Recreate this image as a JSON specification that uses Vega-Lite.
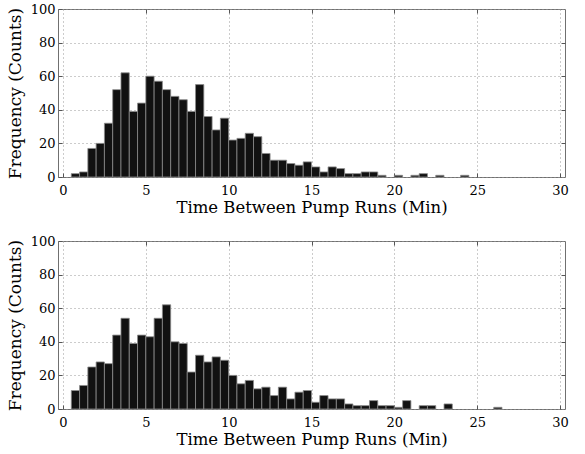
{
  "$schema": "https://vega.github.io/schema/vega-lite/v6.json",
  "padding": {"left": 5, "top": 2, "right": 10, "bottom": 5},
  "background": "white",
  "spacing": 64,
  "bounds": "flush",
  "config": {
    "font": "DejaVu Serif",
    "view": {"stroke": "#707070", "strokeWidth": 1},
    "axis": {
      "labelFont": "DejaVu Serif",
      "titleFont": "DejaVu Serif",
      "labelFontSize": 13,
      "titleFontSize": 16.5,
      "titleFontWeight": "normal",
      "labelColor": "black",
      "titleColor": "black",
      "domain": false,
      "ticks": true,
      "tickSize": -4,
      "tickColor": "#555555",
      "tickWidth": 1,
      "grid": true,
      "gridColor": "#999999",
      "gridDash": [1, 3],
      "gridWidth": 1
    },
    "axisY": {"titleFontSize": 17}
  },
  "datasets": {
    "top": [
      {"bin_start": 0.5, "bin_end": 1.0, "count": 2},
      {"bin_start": 1.0, "bin_end": 1.5, "count": 3},
      {"bin_start": 1.5, "bin_end": 2.0, "count": 17},
      {"bin_start": 2.0, "bin_end": 2.5, "count": 20},
      {"bin_start": 2.5, "bin_end": 3.0, "count": 32},
      {"bin_start": 3.0, "bin_end": 3.5, "count": 52},
      {"bin_start": 3.5, "bin_end": 4.0, "count": 62},
      {"bin_start": 4.0, "bin_end": 4.5, "count": 39},
      {"bin_start": 4.5, "bin_end": 5.0, "count": 44},
      {"bin_start": 5.0, "bin_end": 5.5, "count": 60},
      {"bin_start": 5.5, "bin_end": 6.0, "count": 57},
      {"bin_start": 6.0, "bin_end": 6.5, "count": 52},
      {"bin_start": 6.5, "bin_end": 7.0, "count": 48},
      {"bin_start": 7.0, "bin_end": 7.5, "count": 46},
      {"bin_start": 7.5, "bin_end": 8.0, "count": 39},
      {"bin_start": 8.0, "bin_end": 8.5, "count": 55},
      {"bin_start": 8.5, "bin_end": 9.0, "count": 36},
      {"bin_start": 9.0, "bin_end": 9.5, "count": 28},
      {"bin_start": 9.5, "bin_end": 10.0, "count": 35},
      {"bin_start": 10.0, "bin_end": 10.5, "count": 22},
      {"bin_start": 10.5, "bin_end": 11.0, "count": 23},
      {"bin_start": 11.0, "bin_end": 11.5, "count": 26},
      {"bin_start": 11.5, "bin_end": 12.0, "count": 24},
      {"bin_start": 12.0, "bin_end": 12.5, "count": 14},
      {"bin_start": 12.5, "bin_end": 13.0, "count": 10},
      {"bin_start": 13.0, "bin_end": 13.5, "count": 10},
      {"bin_start": 13.5, "bin_end": 14.0, "count": 8},
      {"bin_start": 14.0, "bin_end": 14.5, "count": 7},
      {"bin_start": 14.5, "bin_end": 15.0, "count": 9},
      {"bin_start": 15.0, "bin_end": 15.5, "count": 6},
      {"bin_start": 15.5, "bin_end": 16.0, "count": 3},
      {"bin_start": 16.0, "bin_end": 16.5, "count": 6},
      {"bin_start": 16.5, "bin_end": 17.0, "count": 5},
      {"bin_start": 17.0, "bin_end": 17.5, "count": 2},
      {"bin_start": 17.5, "bin_end": 18.0, "count": 2},
      {"bin_start": 18.0, "bin_end": 18.5, "count": 3},
      {"bin_start": 18.5, "bin_end": 19.0, "count": 3},
      {"bin_start": 19.0, "bin_end": 19.5, "count": 1},
      {"bin_start": 20.0, "bin_end": 20.5, "count": 1},
      {"bin_start": 21.0, "bin_end": 21.5, "count": 1},
      {"bin_start": 21.5, "bin_end": 22.0, "count": 2},
      {"bin_start": 22.5, "bin_end": 23.0, "count": 1},
      {"bin_start": 24.0, "bin_end": 24.5, "count": 1}
    ],
    "bottom": [
      {"bin_start": 0.5, "bin_end": 1.0, "count": 11},
      {"bin_start": 1.0, "bin_end": 1.5, "count": 14},
      {"bin_start": 1.5, "bin_end": 2.0, "count": 25},
      {"bin_start": 2.0, "bin_end": 2.5, "count": 28},
      {"bin_start": 2.5, "bin_end": 3.0, "count": 27},
      {"bin_start": 3.0, "bin_end": 3.5, "count": 44},
      {"bin_start": 3.5, "bin_end": 4.0, "count": 54},
      {"bin_start": 4.0, "bin_end": 4.5, "count": 39},
      {"bin_start": 4.5, "bin_end": 5.0, "count": 44},
      {"bin_start": 5.0, "bin_end": 5.5, "count": 43},
      {"bin_start": 5.5, "bin_end": 6.0, "count": 54},
      {"bin_start": 6.0, "bin_end": 6.5, "count": 62},
      {"bin_start": 6.5, "bin_end": 7.0, "count": 40},
      {"bin_start": 7.0, "bin_end": 7.5, "count": 39},
      {"bin_start": 7.5, "bin_end": 8.0, "count": 22},
      {"bin_start": 8.0, "bin_end": 8.5, "count": 32},
      {"bin_start": 8.5, "bin_end": 9.0, "count": 28},
      {"bin_start": 9.0, "bin_end": 9.5, "count": 31},
      {"bin_start": 9.5, "bin_end": 10.0, "count": 29},
      {"bin_start": 10.0, "bin_end": 10.5, "count": 20},
      {"bin_start": 10.5, "bin_end": 11.0, "count": 15},
      {"bin_start": 11.0, "bin_end": 11.5, "count": 17},
      {"bin_start": 11.5, "bin_end": 12.0, "count": 12},
      {"bin_start": 12.0, "bin_end": 12.5, "count": 13},
      {"bin_start": 12.5, "bin_end": 13.0, "count": 8},
      {"bin_start": 13.0, "bin_end": 13.5, "count": 13},
      {"bin_start": 13.5, "bin_end": 14.0, "count": 6},
      {"bin_start": 14.0, "bin_end": 14.5, "count": 10},
      {"bin_start": 14.5, "bin_end": 15.0, "count": 11},
      {"bin_start": 15.0, "bin_end": 15.5, "count": 4},
      {"bin_start": 15.5, "bin_end": 16.0, "count": 8},
      {"bin_start": 16.0, "bin_end": 16.5, "count": 6},
      {"bin_start": 16.5, "bin_end": 17.0, "count": 6},
      {"bin_start": 17.0, "bin_end": 17.5, "count": 3},
      {"bin_start": 17.5, "bin_end": 18.0, "count": 2},
      {"bin_start": 18.0, "bin_end": 18.5, "count": 2},
      {"bin_start": 18.5, "bin_end": 19.0, "count": 5},
      {"bin_start": 19.0, "bin_end": 19.5, "count": 2},
      {"bin_start": 19.5, "bin_end": 20.0, "count": 2},
      {"bin_start": 20.0, "bin_end": 20.5, "count": 1},
      {"bin_start": 20.5, "bin_end": 21.0, "count": 5},
      {"bin_start": 21.5, "bin_end": 22.0, "count": 2},
      {"bin_start": 22.0, "bin_end": 22.5, "count": 2},
      {"bin_start": 23.0, "bin_end": 23.5, "count": 3},
      {"bin_start": 26.0, "bin_end": 26.5, "count": 1}
    ]
  },
  "vconcat": [
    {
      "width": 507,
      "height": 168,
      "data": {"name": "top"},
      "resolve": {"axis": {"x": "independent", "y": "independent"}},
      "layer": [
        {
          "mark": {"type": "bar", "orient": "vertical", "fill": "#111111", "stroke": "#8c8c8c", "strokeWidth": 0.8},
          "encoding": {
            "x": {"field": "bin_start", "type": "quantitative", "scale": {"domain": [0, 30], "nice": false},
              "axis": {"values": [0, 5, 10, 15, 20, 25, 30], "title": "Time Between Pump Runs (Min)", "labelPadding": 11, "titlePadding": 2}},
            "x2": {"field": "bin_end"},
            "y": {"field": "count", "type": "quantitative", "scale": {"domain": [0, 100], "nice": false},
              "axis": {"values": [0, 20, 40, 60, 80, 100], "title": "Frequency (Counts)", "labelPadding": 7, "titlePadding": 6}},
            "y2": {"datum": 0}
          }
        },
        {
          "mark": {"type": "bar", "orient": "vertical", "opacity": 0},
          "encoding": {
            "x": {"field": "bin_start", "type": "quantitative",
              "axis": {"orient": "top", "values": [5, 10, 15, 20, 25], "labels": false, "title": null, "grid": false}},
            "x2": {"field": "bin_end"},
            "y": {"field": "count", "type": "quantitative",
              "axis": {"orient": "right", "values": [20, 40, 60, 80], "labels": false, "title": null, "grid": false}},
            "y2": {"datum": 0}
          }
        }
      ]
    },
    {
      "width": 507,
      "height": 168,
      "data": {"name": "bottom"},
      "resolve": {"axis": {"x": "independent", "y": "independent"}},
      "layer": [
        {
          "mark": {"type": "bar", "orient": "vertical", "fill": "#111111", "stroke": "#8c8c8c", "strokeWidth": 0.8},
          "encoding": {
            "x": {"field": "bin_start", "type": "quantitative", "scale": {"domain": [0, 30], "nice": false},
              "axis": {"values": [0, 5, 10, 15, 20, 25, 30], "title": "Time Between Pump Runs (Min)", "labelPadding": 11, "titlePadding": 2}},
            "x2": {"field": "bin_end"},
            "y": {"field": "count", "type": "quantitative", "scale": {"domain": [0, 100], "nice": false},
              "axis": {"values": [0, 20, 40, 60, 80, 100], "title": "Frequency (Counts)", "labelPadding": 7, "titlePadding": 6}},
            "y2": {"datum": 0}
          }
        },
        {
          "mark": {"type": "bar", "orient": "vertical", "opacity": 0},
          "encoding": {
            "x": {"field": "bin_start", "type": "quantitative",
              "axis": {"orient": "top", "values": [5, 10, 15, 20, 25], "labels": false, "title": null, "grid": false}},
            "x2": {"field": "bin_end"},
            "y": {"field": "count", "type": "quantitative",
              "axis": {"orient": "right", "values": [20, 40, 60, 80], "labels": false, "title": null, "grid": false}},
            "y2": {"datum": 0}
          }
        }
      ]
    }
  ]
}
